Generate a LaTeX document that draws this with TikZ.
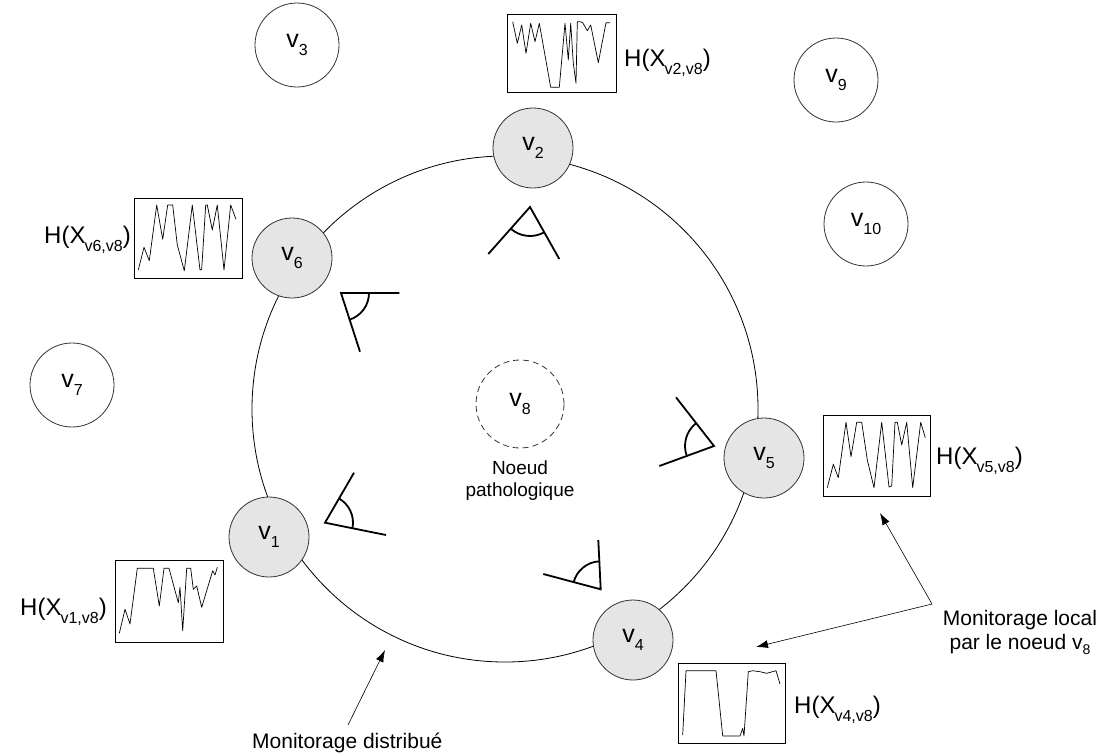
\documentclass[tikz,border=0pt]{standalone}
\usepackage{fontspec}
\setmainfont{Liberation Sans}
\usetikzlibrary{arrows.meta}
\newcommand\sbx[1]{\raisebox{-8pt}{\fontsize{16}{16}\selectfont #1}}
\newcommand\sbs[1]{\raisebox{-5pt}{\fontsize{14}{14}\selectfont #1}}
\begin{document}
\begin{tikzpicture}[x=1pt,y=-1pt,
  vnode/.style={circle,draw=black!80,line width=0.8pt,minimum size=80pt,inner sep=0pt,font=\fontsize{25}{28}\selectfont},
  gnode/.style={vnode,fill=black!10},
  wnode/.style={vnode,fill=white,minimum size=84pt},
  plotbox/.style={draw,line width=0.8pt,inner sep=0pt},
  spark/.style={line width=0.7pt,line join=round},
  eye/.style={line width=1.8pt},
  hlab/.style={font=\fontsize{24}{28}\selectfont,inner sep=0pt},
  note/.style={font=\fontsize{21}{24}\selectfont,align=center,inner sep=0pt},
  arr/.style={-{Latex[length=12pt,width=8pt]},line width=0.6pt}]
\useasboundingbox (0,0) rectangle (1102,753);

% ring
\draw[line width=0.8pt] (505,409) circle[radius=253];

% white nodes
\node[wnode] (v3) at (297,45) {v\sbx{3}};
\node[wnode] (v9) at (836,80) {v\sbx{9}};
\node[wnode] (v10) at (866,224) {v\sbx{10}};
\node[wnode] (v7) at (72,385) {v\sbx{7}};
\node[vnode,dashed,dash pattern=on 6pt off 4pt,minimum size=88pt] (v8) at (520,404) {v\sbx{8}};
\node[note,font=\fontsize{19}{22}\selectfont] (np) at (520,481) {Noeud\\pathologique};

% ring nodes
\node[gnode] (v2) at (533,148) {v\sbx{2}};
\node[gnode] (v6) at (292,258) {v\sbx{6}};
\node[gnode] (v5) at (764,458) {v\sbx{5}};
\node[gnode] (v1) at (269,537) {v\sbx{1}};
\node[gnode] (v4) at (633,640) {v\sbx{4}};

% plot boxes
\node[plotbox,minimum width=109pt,minimum height=78pt] (p2) at (561.5,53) {};
\node[plotbox,minimum width=108pt,minimum height=80pt] (p6) at (188,238) {};
\node[plotbox,minimum width=107pt,minimum height=81pt] (p5) at (876.5,455.5) {};
\node[plotbox,minimum width=108pt,minimum height=82pt] (p1) at (169,601) {};
\node[plotbox,minimum width=107pt,minimum height=80pt] (p4) at (731.5,703) {};

% H labels
\node[hlab,anchor=base west] (h2) at (624,66) {H(X\kern-1pt\sbx{v2,v8})};
\node[hlab,anchor=base east] (h6) at (131,243) {H(X\kern-1pt\sbx{v6,v8})};
\node[hlab,anchor=base west] (h5) at (936,464) {H(X\kern-1pt\sbx{v5,v8})};
\node[hlab,anchor=base east] (h1) at (107,615) {H(X\kern-1pt\sbx{v1,v8})};
\node[hlab,anchor=base west] (h4) at (794,713) {H(X\kern-1pt\sbx{v4,v8})};

% sparklines
\draw[spark] (512.7,21.7) -- (517.3,43.3) -- (521.7,25) -- (526,53.3) -- (530.7,23.3) -- (535,41.7) -- (539.3,23.3) -- (550.7,87.3) -- (559.3,87.3) -- (565,23.3) -- (568.3,60) -- (570.7,23.3) -- (573.3,63.3) -- (576,83.3) -- (577.3,21.7) -- (580,21.7) -- (582.7,22.7) -- (587.3,30.7) -- (590.7,25) -- (598.3,62.7) -- (606,22.7) -- (610,22.7);
\draw[spark] (138.3,270) -- (144,247.3) -- (149.3,260.7) -- (156.7,205) -- (162.7,239.3) -- (167.7,205) -- (172.7,205) -- (177.3,245) -- (184.3,270.7) -- (192.3,205) -- (200,270) -- (201.7,269.3) -- (205.7,205) -- (207.3,205) -- (212.3,230) -- (217.3,205) -- (224,270) -- (230.7,205) -- (236,219.3);
\draw[spark] (827.3,487.7) -- (833.3,464.3) -- (838.3,477.7) -- (846,422.3) -- (851,456.7) -- (856.7,422.3) -- (861.7,422.3) -- (867.3,460) -- (874,487.7) -- (881.7,422.3) -- (889,487) -- (891.7,486) -- (895,422.3) -- (897.3,422.3) -- (901.7,445) -- (906.7,422.3) -- (912.7,487.7) -- (920.7,422.3) -- (925.3,437.7);
\draw[spark] (119.3,633.3) -- (125,609.3) -- (130,624) -- (137.3,568.3) -- (153.3,568.3) -- (159.3,606) -- (164,568.3) -- (169,568.3) -- (178.3,602.7) -- (180,587.3) -- (182.7,630.7) -- (186.7,568.3) -- (190.7,568.3) -- (193.3,589.3) -- (196.7,586) -- (201.7,607.3) -- (212.7,570.7) -- (215,575) -- (217.3,567.3);
\draw[spark] (682.7,735) -- (686,670.7) -- (716,670.7) -- (722.7,736) -- (740,736) -- (742.7,728.3) -- (744,736) -- (748.3,671.7) -- (752.7,670.7) -- (760,671.7) -- (766.7,673.3) -- (776,670.7) -- (780,684);

% eyes (angle symbols)
\draw[eye] (488.3,254) -- (530,207) -- (559.3,259);
\draw[eye] (530,207) ++(132:29) arc[start angle=132,end angle=62,radius=29];
\draw[eye] (399.3,293) -- (341,293) -- (360,351.7);
\draw[eye] (341,293) ++(0:28) arc[start angle=0,end angle=73,radius=28];
\draw[eye] (354,472.7) -- (325,522.7) -- (386,535);
\draw[eye] (325,522.7) ++(-60:28) arc[start angle=-60,end angle=11,radius=28];
\draw[eye] (676,397.3) -- (714,446) -- (659.3,466);
\draw[eye] (714,446) ++(160:29) arc[start angle=160,end angle=232,radius=29];
\draw[eye] (598.3,540) -- (600.7,589.3) -- (543.3,574);
\draw[eye] (600.7,589.3) ++(194:28) arc[start angle=194,end angle=266,radius=28];

% annotations
\node[note,anchor=base west] (md) at (252,748) {Monitorage distribué};
\coordinate (dstart) at (348,725);
\coordinate (dtip) at (385,650);
\draw[arr] (dstart) -- (dtip);

\node[note] (ml) at (1020,632) {Monitorage local\\par le noeud v\sbs{8}};
\coordinate (lstart) at (932,604);
\coordinate (tip5) at (880,513);
\coordinate (tip4) at (756,647);
\draw[arr] (lstart) -- (tip5);
\draw[arr] (lstart) -- (tip4);
\end{tikzpicture}
\end{document}
